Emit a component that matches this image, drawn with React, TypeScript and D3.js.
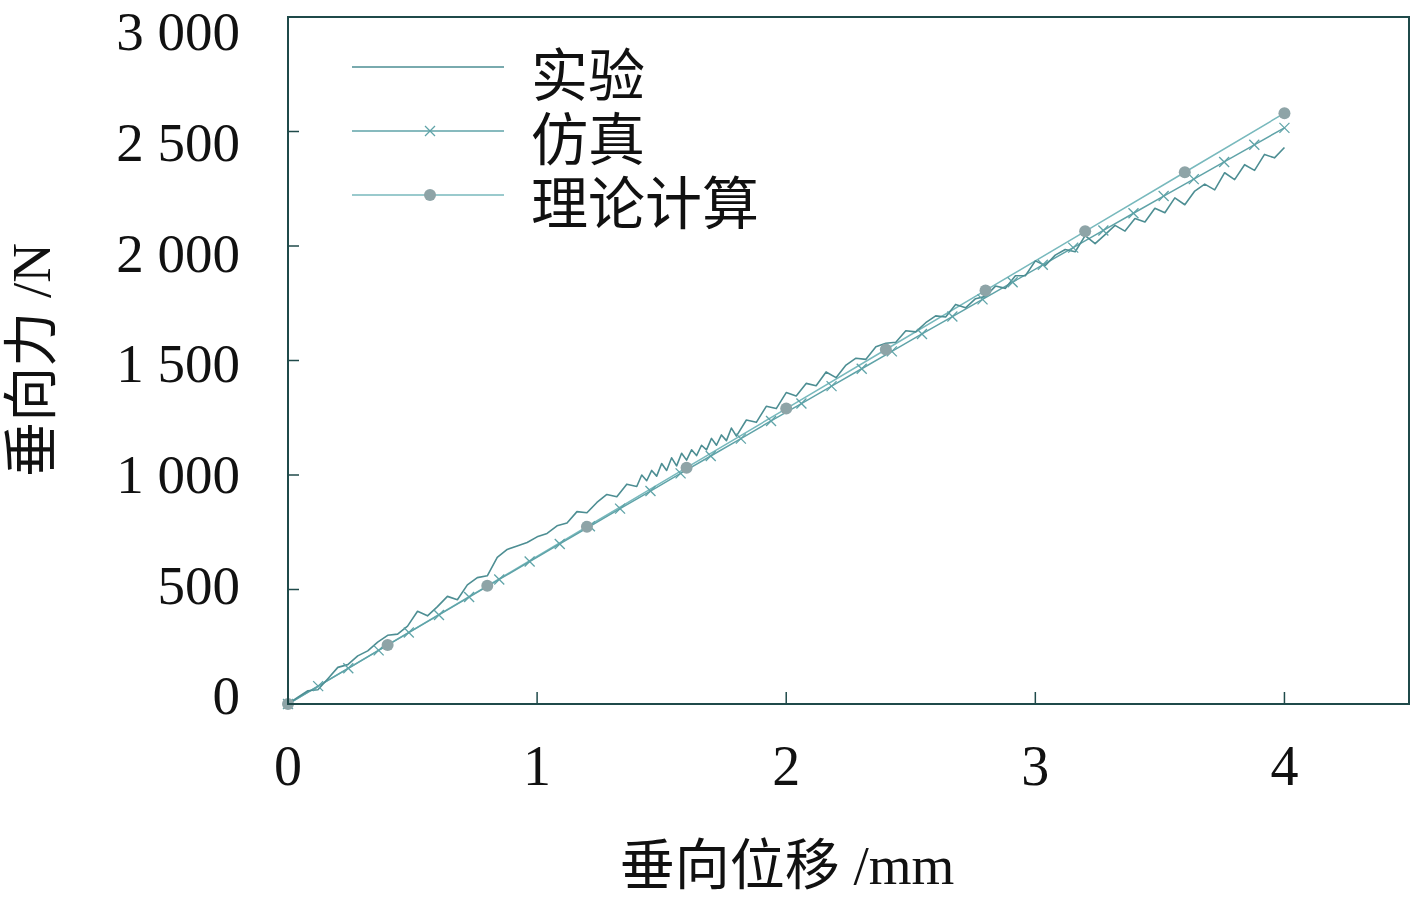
import React from 'react'
import * as d3 from 'd3'

// 理论计算 (theory) points
const theoryX = [0, 0.4, 0.8, 1.2, 1.6, 2.0, 2.4, 2.8, 3.2, 3.6, 4.0]
const theoryY = [0, 258, 516, 774, 1032, 1290, 1548, 1806, 2064, 2322, 2580]

// 仿真 (simulation) points
const simX = [0, 0.121, 0.242, 0.364, 0.485, 0.606, 0.727, 0.848, 0.97, 1.091, 1.212, 1.333, 1.455, 1.576, 1.697, 1.818, 1.939,
  2.061, 2.182, 2.303, 2.424, 2.545, 2.667, 2.788, 2.909, 3.03, 3.152, 3.273, 3.394, 3.515, 3.636, 3.758, 3.879, 4.0]
const simY = [0, 78, 156, 234, 312, 389, 467, 544, 622, 699, 776, 853, 930, 1007, 1083, 1159, 1236,
  1312, 1388, 1464, 1540, 1616, 1692, 1767, 1842, 1918, 1993, 2068, 2143, 2218, 2292, 2367, 2442, 2516]

// 实验 (experiment) measurements
const expX = [0, 0.04, 0.08, 0.12, 0.16, 0.2, 0.24, 0.28, 0.32, 0.36, 0.4, 0.44, 0.48, 0.52, 0.56, 0.6, 0.64, 0.68, 0.72, 0.76,
  0.8, 0.84, 0.88, 0.92, 0.96, 1.0, 1.04, 1.08, 1.12, 1.16, 1.2, 1.24, 1.28, 1.32, 1.36, 1.4,
  1.42, 1.44, 1.46, 1.48, 1.5, 1.52, 1.54, 1.56, 1.58, 1.6, 1.62, 1.64, 1.66, 1.68, 1.7, 1.72, 1.74, 1.76, 1.78, 1.8,
  1.84, 1.88, 1.92, 1.96, 2.0, 2.04, 2.08, 2.12, 2.16, 2.2, 2.24, 2.28, 2.32, 2.36, 2.4, 2.44, 2.48, 2.52, 2.56, 2.6,
  2.64, 2.68, 2.72, 2.76, 2.8, 2.84, 2.88, 2.92, 2.96, 3.0, 3.04, 3.08, 3.12, 3.16, 3.2, 3.24, 3.28, 3.32, 3.36, 3.4,
  3.44, 3.48, 3.52, 3.56, 3.6, 3.64, 3.68, 3.72, 3.76, 3.8, 3.84, 3.88, 3.92, 3.96, 4.0]
const expY = [0, 30, 58, 62, 110, 160, 172, 210, 232, 270, 300, 305, 340, 405, 385, 425, 470, 455, 520, 552,
  560, 640, 675, 690, 705, 730, 745, 778, 790, 840, 835, 880, 915, 905, 960, 950,
  1000, 975, 1020, 995, 1050, 1020, 1075, 1040, 1095, 1065, 1110, 1085, 1130, 1110, 1160, 1130, 1175, 1150, 1205, 1170,
  1240, 1230, 1300, 1290, 1360, 1345, 1400, 1390, 1450, 1425, 1480, 1510, 1505, 1560, 1575, 1580, 1630, 1625, 1665, 1695,
  1690, 1745, 1730, 1770, 1780, 1825, 1815, 1870, 1870, 1935, 1915, 1960, 1985, 1975, 2045, 2010, 2050, 2090, 2065, 2120,
  2105, 2165, 2145, 2210, 2180, 2240, 2270, 2245, 2320, 2290, 2355, 2330, 2400, 2385, 2430]

const xTicks = [0, 1, 2, 3, 4]
const yTicks = [0, 500, 1000, 1500, 2000, 2500, 3000]
const yTickLabels = ['0', '500', '1 000', '1 500', '2 000', '2 500', '3 000']

const legendNames = ['实验', '仿真', '理论计算']

const W = 1415
const H = 900
const left = 288, right = 1409, top = 17, bottom = 704

const frameColor = '#1f4a4a'
const expColor = '#4d8e93'
const simColor = '#5fa3a8'
const theoryColor = '#78b9bd'
const dotColor = '#8ea4a7'
const serif = "'Liberation Serif', 'Times New Roman', 'Noto Sans CJK SC', serif"

function Cross({ x, y, color }: { x: number, y: number, color: string }) {
  const s = 5
  return (
    <g stroke={color} strokeWidth={1.3}>
      <line x1={x - s} y1={y - s} x2={x + s} y2={y + s} />
      <line x1={x - s} y1={y + s} x2={x + s} y2={y - s} />
    </g>
  )
}

export default function App() {
  const x = d3.scaleLinear().domain([0, 4.5]).range([left, right])
  const y = d3.scaleLinear().domain([0, 3000]).range([bottom, top])
  // tick labels in the figure sit on a slightly tighter spacing than the ticks
  const yLab = d3.scaleLinear().domain([0, 3000]).range([695, 31])

  const line = d3.line<[number, number]>().x(d => x(d[0])).y(d => y(d[1]))
  const expPts = expX.map((v, i) => [v, expY[i]] as [number, number])
  const simPts = simX.map((v, i) => [v, simY[i]] as [number, number])
  const theoryPts = theoryX.map((v, i) => [v, theoryY[i]] as [number, number])

  const legendRows = [67, 131, 195]

  return (
    <svg width={W} height={H} style={{ position: 'absolute', left: 0, top: 0, background: '#fff' }}>
      {/* series */}
      <path d={line(theoryPts) || ''} fill="none" stroke={theoryColor} strokeWidth={1.5} />
      <path d={line(simPts) || ''} fill="none" stroke={simColor} strokeWidth={1.5} />
      <path d={line(expPts) || ''} fill="none" stroke={expColor} strokeWidth={1.6} strokeLinejoin="round" />
      {simPts.map((d, i) => <Cross key={'s' + i} x={x(d[0])} y={y(d[1])} color={simColor} />)}
      {theoryPts.map((d, i) => <circle key={'t' + i} cx={x(d[0])} cy={y(d[1])} r={6} fill={dotColor} />)}

      {/* frame */}
      <rect x={left} y={top} width={right - left} height={bottom - top} fill="none" stroke={frameColor} strokeWidth={2} />
      {xTicks.map(t => (
        <g key={'xt' + t}>
          <line x1={x(t)} x2={x(t)} y1={bottom} y2={bottom - 12} stroke={frameColor} strokeWidth={1.5} />
          <text x={x(t)} y={785} textAnchor="middle" fontFamily={serif} fontSize={56} fill="#111">{t}</text>
        </g>
      ))}
      {yTicks.map((t, i) => (
        <g key={'yt' + t}>
          <line x1={left} x2={left + 11} y1={y(t)} y2={y(t)} stroke={frameColor} strokeWidth={1.5} />
          <text x={240} y={yLab(t)} dy="0.35em" textAnchor="end" fontFamily={serif} fontSize={55} fill="#111">{yTickLabels[i]}</text>
        </g>
      ))}

      {/* axis titles */}
      <text x={787} y={884} textAnchor="middle" fontFamily={serif} fontSize={55} fill="#111">垂向位移 /mm</text>
      <text transform="translate(50,360) rotate(-90)" textAnchor="middle" fontFamily={serif} fontSize={55} fill="#111">垂向力 /N</text>

      {/* legend */}
      {legendNames.map((name, i) => {
        const ly = legendRows[i]
        const col = i === 0 ? expColor : i === 1 ? simColor : theoryColor
        return (
          <g key={name}>
            <line x1={352} x2={504} y1={ly} y2={ly} stroke={col} strokeWidth={1.5} />
            {i === 1 && <Cross x={430} y={ly} color={simColor} />}
            {i === 2 && <circle cx={430} cy={ly} r={6} fill={dotColor} />}
            <text x={531} y={ly + 9} dy="0.35em" fontFamily={serif} fontSize={57} fill="#111">{name}</text>
          </g>
        )
      })}
    </svg>
  )
}
